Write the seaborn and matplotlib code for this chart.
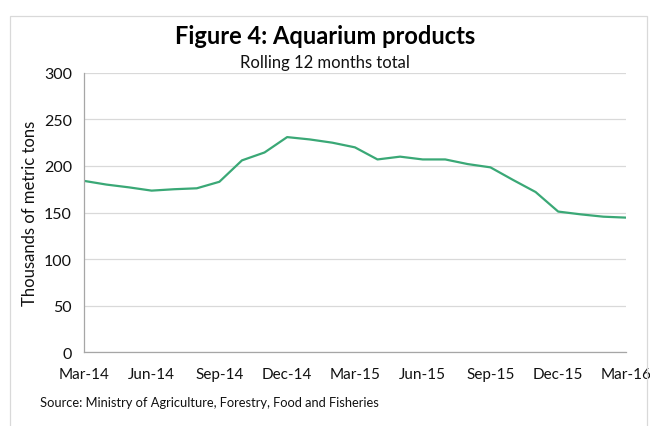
import numpy as np
import pandas as pd
import seaborn as sns
import matplotlib.pyplot as plt
from matplotlib.patches import Rectangle

# monthly rolling 12-month totals, thousands of metric tons
months = pd.date_range('2014-03-01', '2016-03-01', freq='MS')
values = [184, 180, 177, 173.5, 175, 176, 183, 206, 214.5, 231,
          228.5, 225, 220, 207, 210, 207, 207, 202, 198.5, 185,
          172, 151, 148, 145.5, 144.5]
tick_labels = ['Mar-14', 'Jun-14', 'Sep-14', 'Dec-14', 'Mar-15',
               'Jun-15', 'Sep-15', 'Dec-15', 'Mar-16']
y_ticks = [0, 50, 100, 150, 200, 250, 300]

df = pd.DataFrame({'idx': np.arange(len(values)), 'value': values})

sns.set_style('white')
plt.rcParams['font.family'] = ['Lato', 'DejaVu Sans']

fig = plt.figure(figsize=(6.5, 4.27), dpi=100)
ax = fig.add_axes([0.129, 0.173, 0.834, 0.654])

#THE LINE
sns.lineplot(data=df, x='idx', y='value', ax=ax, color='#3aa876', linewidth=1.6)

ax.set_xlim(0, len(values) - 1)
ax.set_ylim(0, 300)
ax.set_yticks(y_ticks)
ax.set_xticks(np.arange(0, len(values), 3))
ax.set_xticklabels(tick_labels)
ax.grid(axis='y', color='#d9d9d9', linewidth=0.9)
ax.set_axisbelow(True)
ax.tick_params(axis='both', labelsize=11.5, colors='#a6a6a6', labelcolor='#111111',
               length=5, width=0.9, direction='out')
ax.tick_params(axis='x', pad=6, labelsize=11)
ax.set_xlabel('')
ax.set_ylabel('Thousands of metric tons', fontsize=12, color='#111111', labelpad=4)
for s in ['top', 'right']:
    ax.spines[s].set_visible(False)
for s in ['left', 'bottom']:
    ax.spines[s].set_color('#a6a6a6')
    ax.spines[s].set_linewidth(0.9)

#TITLES AND SOURCE
fig.text(0.5, 0.915, 'Figure 4: Aquarium products', ha='center', va='center',
         fontsize=17, fontweight='bold', color='#000000')
fig.text(0.5, 0.852, 'Rolling 12 months total', ha='center', va='center',
         fontsize=12, color='#111111')
fig.text(0.062, 0.056, 'Source: Ministry of Agriculture, Forestry, Food and Fisheries',
         ha='left', va='center', fontsize=9.3, color='#111111')

#CHART BORDER
fig.patches.append(Rectangle((0.016, -0.02), 0.98, 0.98, transform=fig.transFigure,
                             fill=False, edgecolor='#d9d9d9', linewidth=0.9))

fig.savefig('out.png', dpi=100)
